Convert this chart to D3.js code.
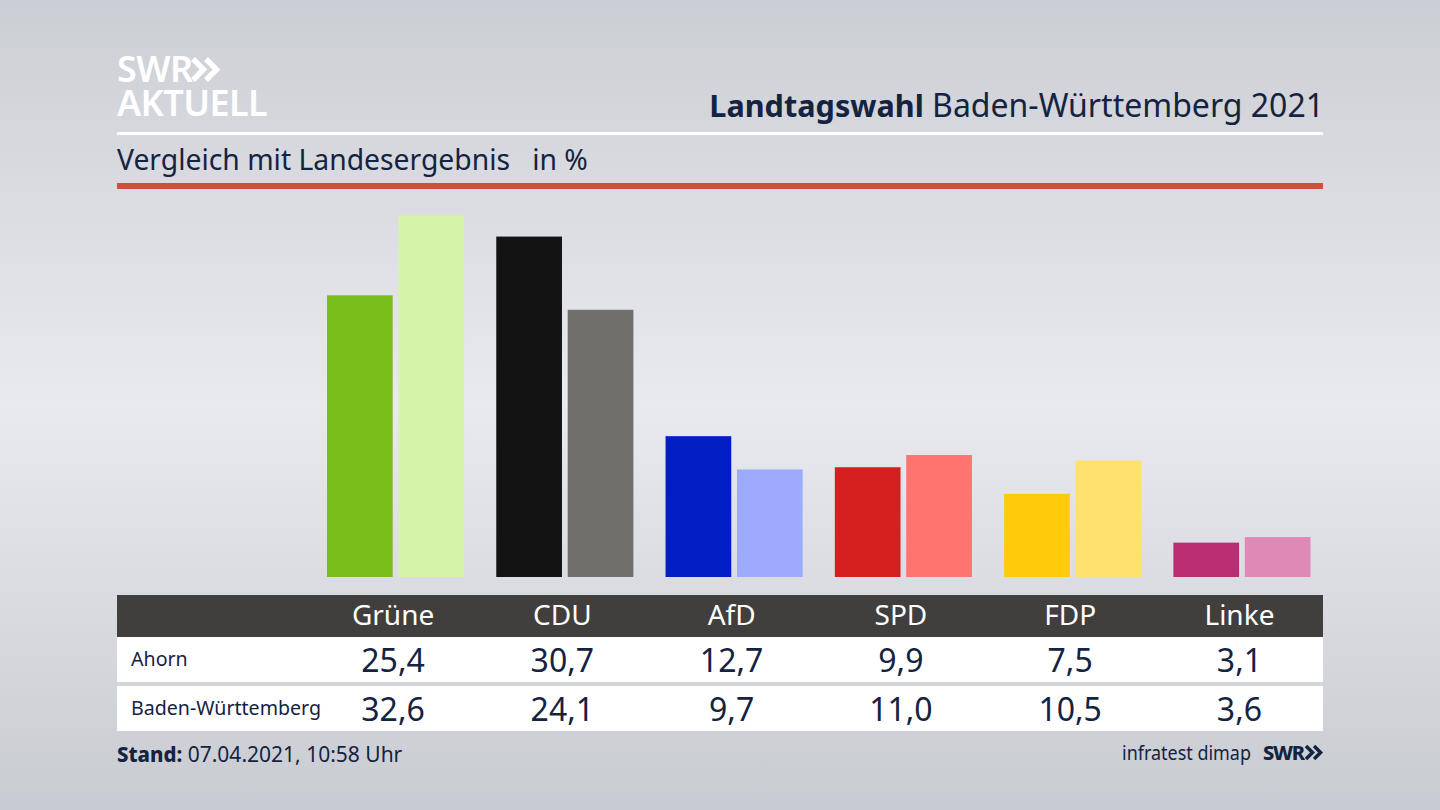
<!DOCTYPE html>
<html>
<head>
<meta charset="utf-8">
<script src="https://cdn.jsdelivr.net/npm/d3@7"></script>
<style>
  html, body { margin: 0; padding: 0; background: #dfe1e6; }
  svg { display: block; }
  text { font-family: "Noto Sans", sans-serif; fill: #14233f; }
</style>
</head>
<body>
<div id="chart"></div>
<script>
var parties = ["Grüne", "CDU", "AfD", "SPD", "FDP", "Linke"];
var regions = ["Ahorn", "Baden-Württemberg"];
var ahorn = [25.4, 30.7, 12.7, 9.9, 7.5, 3.1];
var land = [32.6, 24.1, 9.7, 11.0, 10.5, 3.6];
var ahornColors = ["#78bd19", "#131313", "#001ec3", "#d51f1f", "#ffcb0a", "#bb2d73"];
var landColors = ["#d5f4a8", "#706f6c", "#9dabff", "#ff746f", "#ffe16f", "#df89b6"];

var svgWidth = 1440;
var svgHeight = 810;
var left = 117;
var right = 1323;

var svg = d3.select("#chart").append("svg")
  .attr("width", svgWidth)
  .attr("height", svgHeight);

var defs = svg.append("defs");
var bg = defs.append("linearGradient").attr("id", "bg")
  .attr("x1", 0).attr("y1", 0).attr("x2", 0).attr("y2", 1);
bg.append("stop").attr("offset", "0%").attr("stop-color", "#cbced4");
bg.append("stop").attr("offset", "50%").attr("stop-color", "#e9eaef");
bg.append("stop").attr("offset", "100%").attr("stop-color", "#c8cbd1");

svg.append("rect")
  .attr("width", svgWidth)
  .attr("height", svgHeight)
  .attr("fill", "url(#bg)");

// scales: one band per party, two bars inside each band
var x = d3.scaleBand()
  .domain(parties)
  .range([327, 1310.5])
  .paddingInner(0.19)
  .paddingOuter(0);

var inner = d3.scaleBand()
  .domain(["ahorn", "land"])
  .range([0, x.bandwidth()])
  .paddingInner(0.08);

var y = d3.scaleLinear()
  .domain([0, 32.6])
  .range([577, 215.5]);

var barSeries = [
  { key: "ahorn", values: ahorn, colors: ahornColors },
  { key: "land", values: land, colors: landColors }
];

barSeries.forEach(function(s) {
  svg.append("g").selectAll("rect")
    .data(s.values)
    .enter()
    .append("rect")
    .attr("x", (d, i) => x(parties[i]) + inner(s.key))
    .attr("y", d => y(d))
    .attr("width", inner.bandwidth())
    .attr("height", d => y(0) - y(d))
    .attr("fill", (d, i) => s.colors[i]);
});

// header
svg.append("rect").attr("x", left).attr("y", 132).attr("width", right - left).attr("height", 3).attr("fill", "#fff");
svg.append("rect").attr("x", left).attr("y", 183).attr("width", right - left).attr("height", 6).attr("fill", "#cd5138");

svg.append("text")
  .attr("x", right + 1).attr("y", 117)
  .attr("text-anchor", "end")
  .attr("font-size", 32)
  .html('<tspan font-weight="700" font-size="30.6">Landtagswahl</tspan> Baden-Württemberg 2021');

svg.append("text")
  .attr("x", left).attr("y", 170)
  .attr("font-size", 28.3)
  .attr("xml:space", "preserve")
  .text("Vergleich mit Landesergebnis   in %");

// logo top left
function chevrons(g, px, py, h, color, weight) {
  [0, h * 0.62].forEach(function(dx) {
    g.append("path")
      .attr("d", d3.line()([[px + dx, py], [px + dx + h * 0.5, py + h / 2], [px + dx, py + h]]))
      .attr("fill", "none")
      .attr("stroke", color)
      .attr("stroke-width", weight);
  });
}

var logo = svg.append("g");
var logoText = logo.append("text")
  .attr("font-size", 36)
  .attr("font-weight", 600)
  .style("fill", "#fff");
logoText.append("tspan").attr("x", 117).attr("y", 82).attr("letter-spacing", -0.6).text("SWR");
logoText.append("tspan").attr("x", 117).attr("y", 116).attr("letter-spacing", -0.6).text("AKTUELL");
chevrons(logo, 193, 59, 21, "#fff", 5.5);

// table
var rowTop = [637, 686];
var rowHeight = [45, 45];
var labelShift = -2.5; // the table columns sit a little left of the bar groups

svg.append("rect").attr("x", left).attr("y", 595).attr("width", right - left).attr("height", 42).attr("fill", "#403f3d");

svg.selectAll(".row")
  .data(regions)
  .enter()
  .append("rect")
  .attr("class", "row")
  .attr("x", left)
  .attr("y", (d, i) => rowTop[i])
  .attr("width", right - left)
  .attr("height", (d, i) => rowHeight[i])
  .attr("fill", "#fff");

var headAxis = d3.axisBottom(x).tickSize(0).tickPadding(0);
var headG = svg.append("g")
  .attr("transform", `translate(${labelShift}, 595)`)
  .call(headAxis);
headG.select(".domain").remove();
headG.selectAll("text")
  .attr("y", 30)
  .attr("dy", 0)
  .attr("font-size", 28)
  .attr("font-family", '"Noto Sans", sans-serif')
  .style("fill", "#fff");

svg.selectAll(".rowLabel")
  .data(regions)
  .enter()
  .append("text")
  .attr("class", "rowLabel")
  .attr("x", 131)
  .attr("y", (d, i) => rowTop[i] + 29)
  .attr("font-size", 19.6)
  .text(d => d);

var fmt = d => d.toFixed(1).replace(".", ",");

[ahorn, land].forEach(function(values, r) {
  svg.append("g").selectAll("text")
    .data(values)
    .enter()
    .append("text")
    .attr("x", (d, i) => x(parties[i]) + x.bandwidth() / 2 + labelShift)
    .attr("y", rowTop[r] + 34.5)
    .attr("text-anchor", "middle")
    .attr("font-size", 32)
    .text(fmt);
});

// footer
svg.append("text")
  .attr("x", left).attr("y", 762)
  .attr("font-size", 21)
  .html('<tspan font-weight="800" font-size="20.4">Stand:</tspan> 07.04.2021, 10:58 Uhr');

svg.append("text")
  .attr("x", 1122).attr("y", 760)
  .attr("font-size", 20)
  .attr("textLength", 129)
  .attr("lengthAdjust", "spacingAndGlyphs")
  .text("infratest dimap");

svg.append("text")
  .attr("x", 1263).attr("y", 760)
  .attr("font-size", 20)
  .attr("font-weight", 800)
  .attr("textLength", 42)
  .text("SWR");
chevrons(svg.append("g"), 1306, 746, 13, "#14233f", 3.5);
</script>
</body>
</html>
